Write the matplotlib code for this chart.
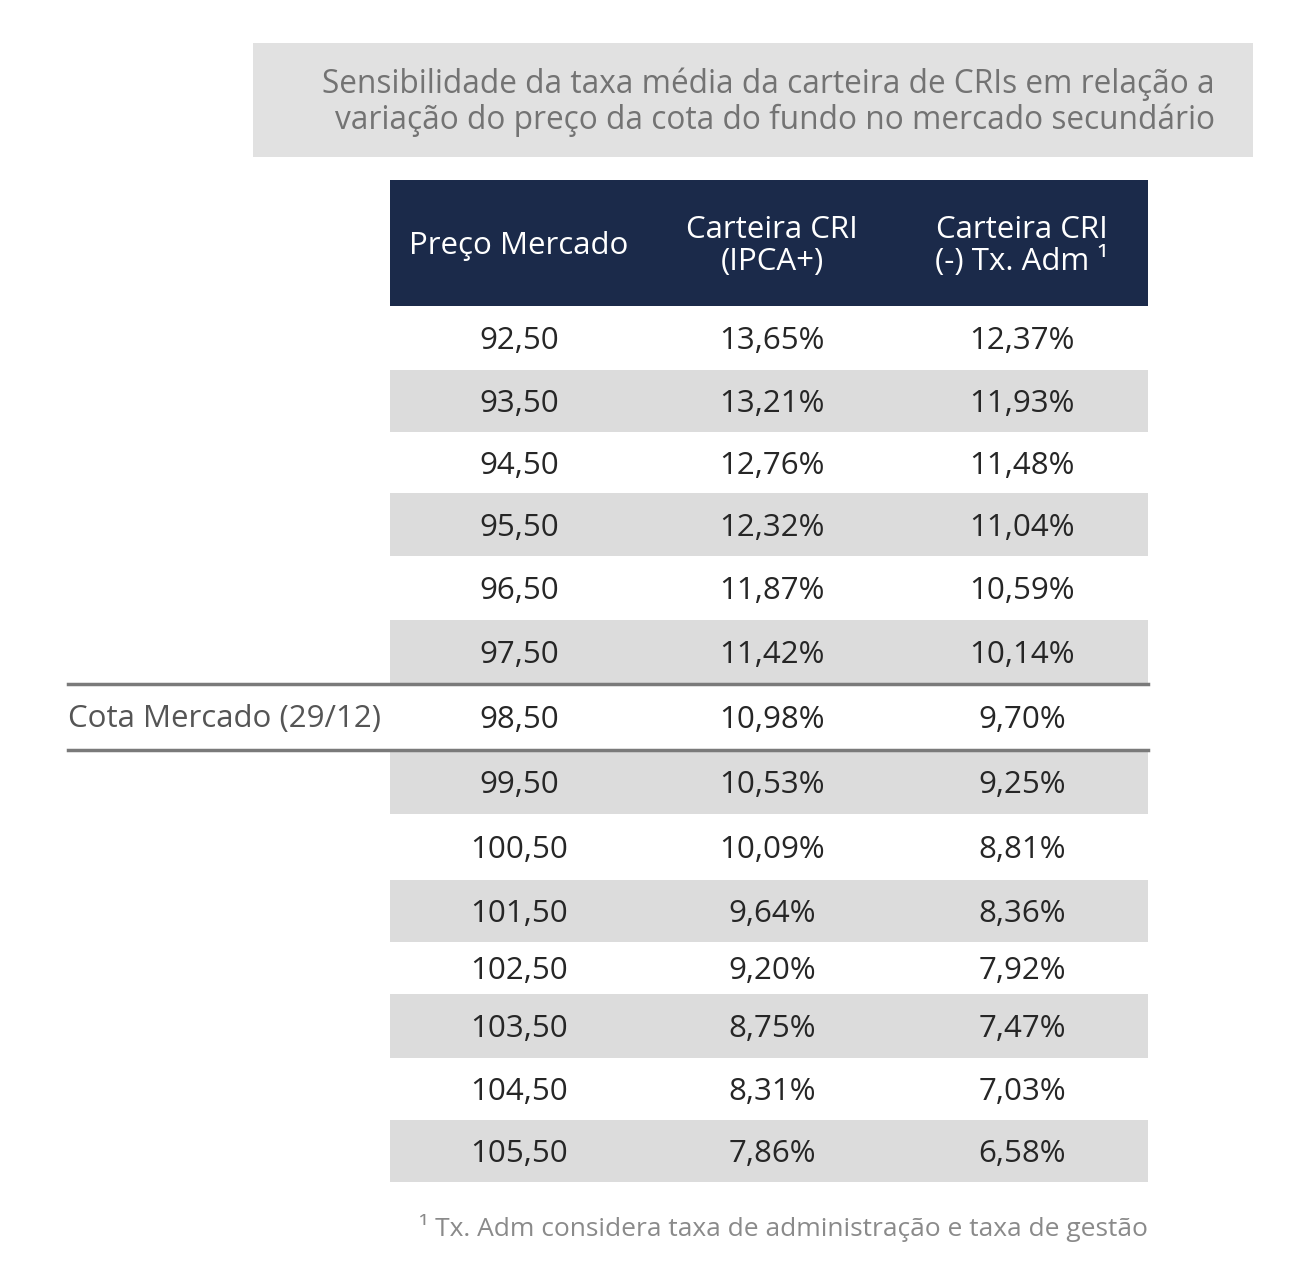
import matplotlib.pyplot as plt
import matplotlib.patches as patches

plt.rcParams['font.family'] = ['Open Sans', 'DejaVu Sans']

rows = [
    ('92,50', '13,65%', '12,37%'),
    ('93,50', '13,21%', '11,93%'),
    ('94,50', '12,76%', '11,48%'),
    ('95,50', '12,32%', '11,04%'),
    ('96,50', '11,87%', '10,59%'),
    ('97,50', '11,42%', '10,14%'),
    ('98,50', '10,98%', '9,70%'),
    ('99,50', '10,53%', '9,25%'),
    ('100,50', '10,09%', '8,81%'),
    ('101,50', '9,64%', '8,36%'),
    ('102,50', '9,20%', '7,92%'),
    ('103,50', '8,75%', '7,47%'),
    ('104,50', '8,31%', '7,03%'),
    ('105,50', '7,86%', '6,58%'),
]
# limites das linhas (pixels)
bounds = [306, 370, 432, 493, 556, 620, 684, 750, 814, 880, 942, 994, 1058, 1120, 1182]
shaded = [False, True, False, True, False, True, False, True, False, True, False, True, False, True]
col_x = [519, 772, 1022]

fig = plt.figure(figsize=(13.02, 12.76), dpi=100)
ax = fig.add_axes([0, 0, 1, 1])
ax.set_xlim(0, 1302)
ax.set_ylim(1276, 0)
ax.axis('off')

# titulo
ax.add_patch(patches.Rectangle((253, 43), 1000, 114, facecolor='#e1e1e1', edgecolor='none'))
ax.text(1215, 102, 'Sensibilidade da taxa média da carteira de CRIs em relação a\nvariação do preço da cota do fundo no mercado secundário',
        ha='right', va='center', fontsize=22.8, color='#737373', linespacing=1.1)

# cabecalho
ax.add_patch(patches.Rectangle((390, 180), 758, 126, facecolor='#1b2a4a', edgecolor='none'))
headers = ['Preço Mercado', 'Carteira CRI\n(IPCA+)', 'Carteira CRI\n(-) Tx. Adm ¹']
for x, h in zip(col_x, headers):
    ax.text(x, 246, h, ha='center', va='center', fontsize=22.5, color='white', linespacing=1.05)

for i, row in enumerate(rows):
    y0, y1 = bounds[i], bounds[i + 1]
    if shaded[i]:
        ax.add_patch(patches.Rectangle((390, y0), 758, y1 - y0, facecolor='#dcdcdc', edgecolor='none'))
    yc = (y0 + y1) / 2 + 3
    for x, v in zip(col_x, row):
        ax.text(x, yc, v, ha='center', va='center', fontsize=22.5, color='#262626')

# destaque cota mercado
for y in (bounds[6], bounds[7]):
    ax.plot([68, 1148], [y, y], color='#7a7a7a', lw=2.5)
ax.text(68, (bounds[6] + bounds[7]) / 2 + 2, 'Cota Mercado (29/12)', ha='left', va='center',
        fontsize=22.5, color='#555555')

ax.text(1148, 1228, '¹ Tx. Adm considera taxa de administração e taxa de gestão',
        ha='right', va='center', fontsize=19, color='#8a8a8a')

fig.savefig('out.png', dpi=100, facecolor='white')
